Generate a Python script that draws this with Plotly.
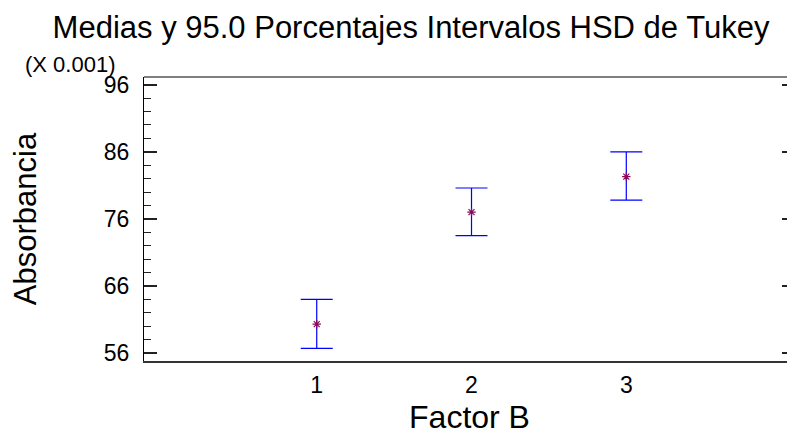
import plotly.graph_objects as go

# Data (values shown in units of 0.001)
levels = [1, 2, 3]
means = [60.3, 77.0, 82.3]
upper = [64.0, 80.6, 86.0]
lower = [56.7, 73.5, 78.8]
y_ticks = [56, 66, 76, 86, 96]
x_ticks = [1, 2, 3]

err_plus = [u - m for u, m in zip(upper, means)]
err_minus = [m - l for m, l in zip(means, lower)]

FONT = "Liberation Sans, Arial, sans-serif"
W, H = 787, 432  # page body has an 8px margin

fig = go.Figure()
fig.add_trace(go.Scatter(
    x=levels, y=means, mode="markers",
    marker=dict(symbol="asterisk-open", size=7, color="#8a0a5a",
                line=dict(color="#8a0a5a", width=1.2)),
    error_y=dict(type="data", symmetric=False, array=err_plus, arrayminus=err_minus,
                 color="#0000ff", thickness=1.2, width=16),
    showlegend=False,
))

fig.update_layout(
    width=W, height=H,
    margin=dict(l=136, r=0, t=69, b=79, pad=0),
    paper_bgcolor="white", plot_bgcolor="white",
    font=dict(family=FONT, color="black"),
    title=dict(text="Medias y 95.0 Porcentajes Intervalos HSD de Tukey",
               x=403/W, xref="container", xanchor="center",
               y=1 - 8/H, yref="container", yanchor="top",
               font=dict(size=31, family=FONT, color="black")),
    xaxis=dict(range=[-0.116, 4.09], tickvals=x_ticks, ticktext=[str(v) for v in x_ticks],
               showgrid=False, zeroline=False, ticks="", ticklen=0,
               showline=True, linecolor="#333333", linewidth=2,
               tickfont=dict(size=23, family=FONT), ticklabelstandoff=2,
               title=dict(text="Factor B", font=dict(size=32, family=FONT), standoff=9)),
    yaxis=dict(range=[54.81, 97.15], tickvals=y_ticks, ticktext=[str(v) for v in y_ticks],
               showgrid=False, zeroline=False,
               ticks="inside", ticklen=13, tickwidth=1.5, tickcolor="#222222",
               minor=dict(dtick=2, tick0=56, ticks="inside", ticklen=7, tickwidth=1.2,
                          tickcolor="#222222", showgrid=False),
               showline=True, linecolor="black", linewidth=1, mirror="allticks",
               tickfont=dict(size=23, family=FONT), ticklabelstandoff=9,
               title=dict(text="Absorbancia", font=dict(size=31, family=FONT), standoff=57)),
    shapes=[dict(type="line", xref="paper", yref="paper", x0=0, x1=1, y0=1, y1=1,
                 line=dict(color="black", width=1))],
    annotations=[dict(text="(X 0.001)", xref="paper", yref="paper",
                      x=(15 - 136) / 651, y=1 + (69.3 - 57) / 283.7,
                      xanchor="left", yanchor="middle", showarrow=False,
                      font=dict(size=22, family=FONT, color="black"))],
)

fig.write_html("out.html")
